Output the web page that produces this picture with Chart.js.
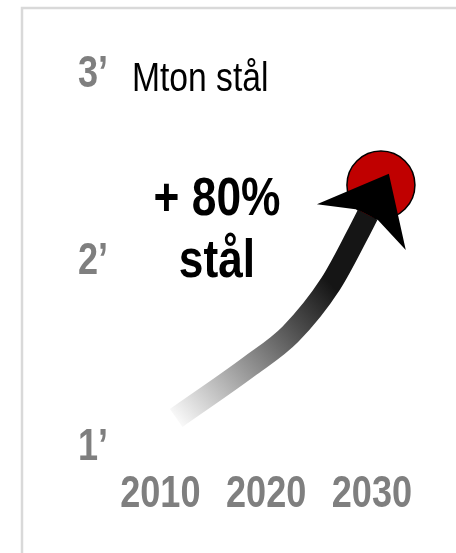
<!DOCTYPE html>
<html><head><meta charset="utf-8">
<script src="https://cdn.jsdelivr.net/npm/chart.js@4"></script>
<style>html,body{margin:0;padding:0;background:#fff}#wrap{width:456px;height:553px;position:relative}</style>
</head><body><div id="wrap"><canvas id="c" width="456" height="553"></canvas></div>
<script>
const years = [2010, 2020, 2030];
const yTicks = [1, 2, 3];
const yTickLabels = ['1’', '2’', '3’'];
const arrowYears = [2011.5, 2018.5, 2022.3, 2026.1, 2028.7, 2029.6];
const arrowValues = [1.14, 1.42, 1.59, 1.86, 2.13, 2.23];
const arrowTip = [2031.6, 2.45];
const target = [2030.85, 2.39];
const unitLabel = 'Mton stål';
const growthLabel = ['+ 80%', 'stål'];

const FONT = "'Liberation Sans Narrow','Liberation Sans',Arial,sans-serif";
const SQUEEZE = 0.82; // horizontal condensing to mimic a narrow face

function drawCondensed(c, text, x, y, align) {
  c.save();
  c.translate(x, y);
  c.scale(SQUEEZE, 1);
  c.textAlign = align;
  c.textBaseline = 'alphabetic';
  c.fillText(text, 0, 0);
  c.restore();
}

const frame = {
  id: 'frame',
  beforeDraw(chart) {
    const c = chart.ctx;
    c.save();
    c.strokeStyle = '#d9d9d9';
    c.lineWidth = 2.5;
    c.beginPath();
    c.moveTo(22, 553); c.lineTo(22, 8); c.lineTo(456, 8);
    c.stroke();
    c.restore();
  }
};

const arrowHead = {
  id: 'arrowHead',
  afterDatasetsDraw(chart) {
    const c = chart.ctx, x = chart.scales.x, y = chart.scales.y;
    const tx = x.getPixelForValue(arrowTip[0]), ty = y.getPixelForValue(arrowTip[1]);
    const n = arrowYears.length - 1;
    const bx = x.getPixelForValue(arrowYears[n]), by = y.getPixelForValue(arrowValues[n]);
    let ux = tx - bx, uy = ty - by;
    const L = Math.hypot(ux, uy); ux /= L; uy /= L;
    const px = -uy, py = ux;
    const back = 60, half = 50, neck = 11.5;
    c.save();
    c.fillStyle = '#000';
    c.beginPath();
    c.moveTo(tx, ty);
    c.lineTo(tx - ux * back + px * half, ty - uy * back + py * half);
    c.lineTo(bx + px * neck, by + py * neck);
    c.lineTo(bx - px * neck, by - py * neck);
    c.lineTo(tx - ux * back - px * half, ty - uy * back - py * half);
    c.closePath();
    c.fill();
    c.restore();
  }
};

const labels = {
  id: 'labels',
  afterDraw(chart) {
    const c = chart.ctx, xs = chart.scales.x, ys = chart.scales.y;
    c.save();
    c.fillStyle = '#7f7f7f';
    c.font = 'bold 44px ' + FONT;
    years.forEach(v => drawCondensed(c, String(v), xs.getPixelForValue(v), xs.top + 35, 'center'));
    yTicks.forEach((v, i) => drawCondensed(c, yTickLabels[i], ys.right - 10, ys.getPixelForValue(v) + 16, 'right'));
    c.fillStyle = '#000';
    c.font = '41px ' + FONT;
    drawCondensed(c, unitLabel, 132, 91, 'left');
    c.font = 'bold 54px ' + FONT;
    drawCondensed(c, growthLabel[0], 217, 215, 'center');
    drawCondensed(c, growthLabel[1], 217, 277, 'center');
    c.restore();
  }
};

function arrowGradient(context) {
  const chart = context.chart;
  const { ctx, chartArea, scales } = chart;
  if (!chartArea) return '#000';
  const x0 = scales.x.getPixelForValue(arrowYears[0]);
  const y0 = scales.y.getPixelForValue(arrowValues[0]);
  const x1 = scales.x.getPixelForValue(arrowYears[3]);
  const y1 = scales.y.getPixelForValue(arrowValues[3]);
  const g = ctx.createLinearGradient(x0, y0, x1, y1);
  g.addColorStop(0, '#f8f8f8');
  g.addColorStop(0.47, '#8a8a8a');
  g.addColorStop(0.75, '#4a4a4a');
  g.addColorStop(1, '#151515');
  return g;
}

new Chart(document.getElementById('c'), {
  type: 'line',
  data: {
    datasets: [
      {
        type: 'line',
        data: arrowYears.map((v, i) => ({ x: v, y: arrowValues[i] })),
        borderColor: arrowGradient,
        borderWidth: 22,
        borderCapStyle: 'butt',
        cubicInterpolationMode: 'monotone',
        pointRadius: 0,
        fill: false,
        clip: false
      },
      {
        type: 'scatter',
        data: [{ x: target[0], y: target[1] }],
        pointRadius: 34,
        pointBackgroundColor: '#c00000',
        pointBorderColor: '#000',
        pointBorderWidth: 1.5,
        showLine: false,
        clip: false
      }
    ]
  },
  options: {
    responsive: false,
    animation: false,
    devicePixelRatio: 1,
    events: [],
    layout: { autoPadding: false, padding: { top: 34, right: 10, bottom: 0, left: 0 } },
    plugins: { legend: { display: false }, tooltip: { enabled: false } },
    scales: {
      x: {
        type: 'linear',
        min: 2006, max: 2037,
        grid: { display: false },
        border: { display: false },
        afterBuildTicks: s => { s.ticks = years.map(v => ({ value: v })); },
        afterFit: s => { s.height = 81; },
        ticks: { display: false }
      },
      y: {
        type: 'linear',
        min: 0.85, max: 3.2,
        grid: { display: false },
        border: { display: false },
        afterBuildTicks: s => { s.ticks = yTicks.map(v => ({ value: v })); },
        afterFit: s => { s.width = 118; },
        ticks: { display: false }
      }
    }
  },
  plugins: [frame, arrowHead, labels]
});
</script></body></html>
